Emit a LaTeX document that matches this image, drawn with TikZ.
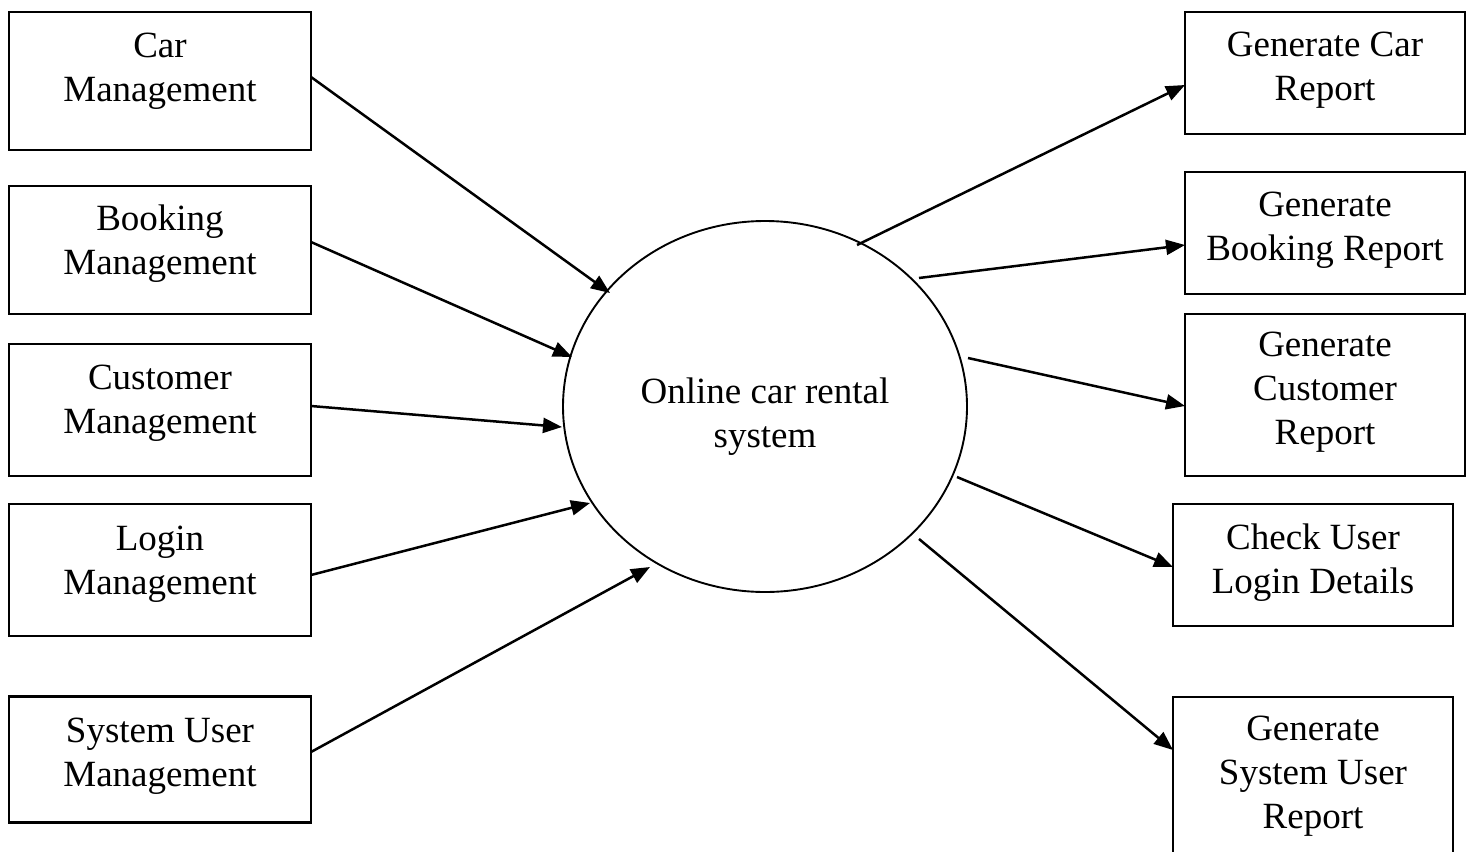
\documentclass[tikz,border=0pt]{standalone}
\usepackage{fontspec}
\setmainfont{Liberation Serif}
\usetikzlibrary{arrows.meta,shapes.geometric}

\tikzset{
  box/.style={draw, line width=2.3pt, inner sep=0pt},
  lbl/.style={anchor=base, align=center, inner sep=0pt,
              font=\fontsize{37}{44}\selectfont},
  flow/.style={line width=2.5pt, -{Triangle[length=19pt,width=15pt]}},
}

\begin{document}
\begin{tikzpicture}[x=1pt,y=-1pt]
  \clip (0,0) rectangle (1474,851);

  % inputs on the left
  \node[box, minimum width=302pt, minimum height=138pt] (car)  at (160,81)  {};
  \node[box, minimum width=302pt, minimum height=128pt] (book) at (160,250) {};
  \node[box, minimum width=302pt, minimum height=132pt] (cust) at (160,410) {};
  \node[box, minimum width=302pt, minimum height=132pt] (login) at (160,570) {};
  \node[box, minimum width=302pt, minimum height=126pt] (suser) at (160,759.5) {};

  % labels sit on the baseline of their last line
  \node[lbl] (carT)   at (160,101) {Car\\Management};
  \node[lbl] (bookT)  at (160,274) {Booking\\Management};
  \node[lbl] (custT)  at (160,433) {Customer\\Management};
  \node[lbl] (loginT) at (160,594) {Login\\Management};
  \node[lbl] (suserT) at (160,786) {System User\\Management};

  % central process
  \node[draw, ellipse, line width=1.9pt, inner sep=0pt,
        minimum width=404pt, minimum height=371pt] (sys) at (765,406.5) {};
  \node[lbl] (sysT) at (765,447) {Online car rental\\system};

  % reports on the right
  \node[box, minimum width=280pt, minimum height=122pt] (rcar)  at (1325,73)  {};
  \node[box, minimum width=280pt, minimum height=122pt] (rbook) at (1325,233) {};
  \node[box, minimum width=280pt, minimum height=162pt] (rcust) at (1325,395) {};
  \node[box, minimum width=280pt, minimum height=122pt] (rlogin) at (1313,565) {};
  \node[box, minimum width=280pt, minimum height=170pt] (rsuser) at (1313,782) {};

  \node[lbl] (rcarT)   at (1325,100) {Generate Car\\Report};
  \node[lbl] (rbookT)  at (1325,260) {Generate\\Booking Report};
  \node[lbl] (rcustT)  at (1325,444) {Generate\\Customer\\Report};
  \node[lbl] (rloginT) at (1313,593) {Check User\\Login Details};
  \node[lbl] (rsuserT) at (1313,828) {Generate\\System User\\Report};

  % connector end points
  \coordinate (a1) at (311,77);   \coordinate (b1) at (610,293);
  \coordinate (a2) at (311,242);  \coordinate (b2) at (572,357);
  \coordinate (a3) at (311,406);  \coordinate (b3) at (562,427);
  \coordinate (a4) at (311,575);  \coordinate (b4) at (590,503);
  \coordinate (a5) at (311,752);  \coordinate (b5) at (650,567);

  \coordinate (c1) at (857,245);  \coordinate (d1) at (1185,85);
  \coordinate (c2) at (919,278);  \coordinate (d2) at (1185,245);
  \coordinate (c3) at (968,358);  \coordinate (d3) at (1185,406);
  \coordinate (c4) at (957,477);  \coordinate (d4) at (1173,567);
  \coordinate (c5) at (919,539);  \coordinate (d5) at (1173,750);

  \draw[flow] (a1) -- (b1);
  \draw[flow] (a2) -- (b2);
  \draw[flow] (a3) -- (b3);
  \draw[flow] (a4) -- (b4);
  \draw[flow] (a5) -- (b5);

  \draw[flow] (c1) -- (d1);
  \draw[flow] (c2) -- (d2);
  \draw[flow] (c3) -- (d3);
  \draw[flow] (c4) -- (d4);
  \draw[flow] (c5) -- (d5);
\end{tikzpicture}
\end{document}
